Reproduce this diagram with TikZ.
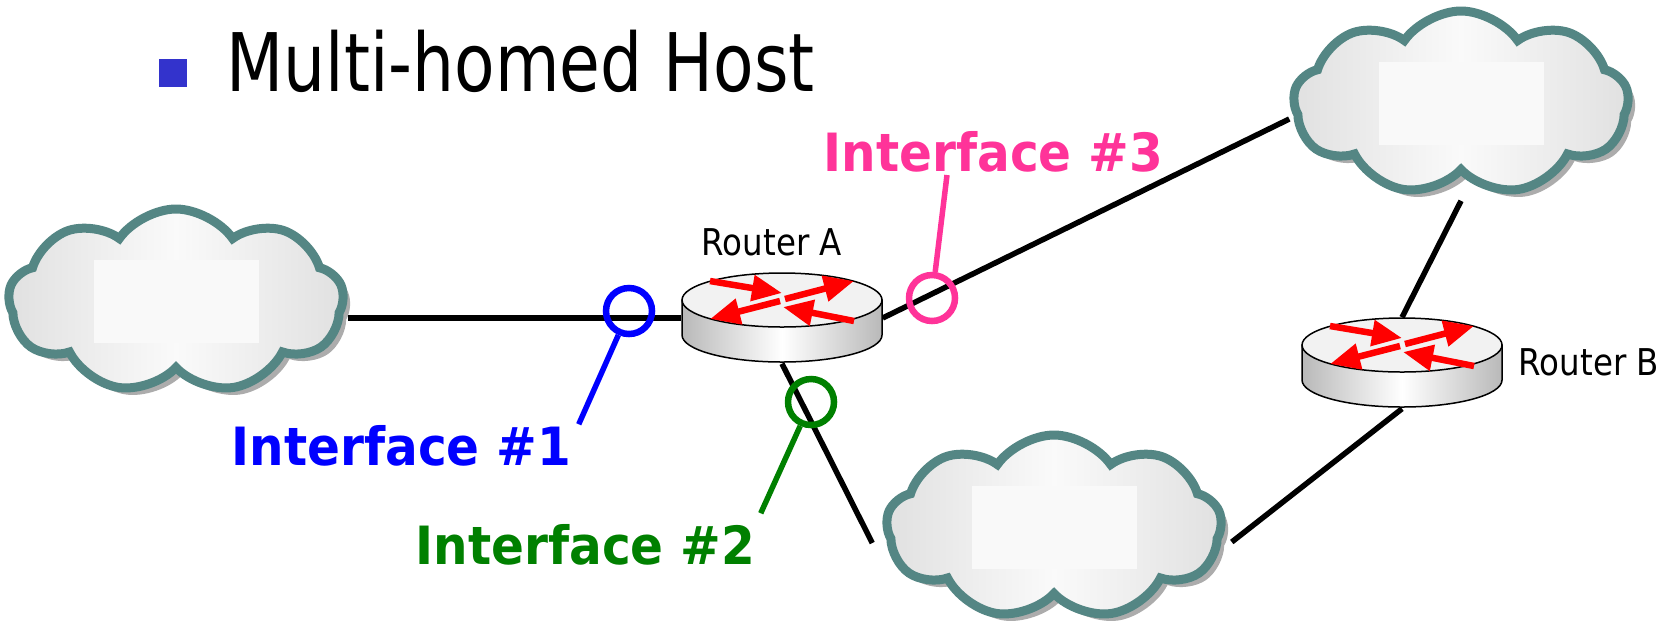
\documentclass[tikz,border=0pt]{standalone}
\usepackage{fontspec}
\setmainfont{DejaVu Sans}
\newfontfamily\titlefont[FakeStretch=0.82]{DejaVu Sans}
\newfontfamily\labfont[FakeStretch=0.92]{DejaVu Sans}
\newfontfamily\smallfont[FakeStretch=0.88]{DejaVu Sans}
\usetikzlibrary{shapes.symbols,shadows,arrows.meta}

\definecolor{ifblue}{RGB}{0,0,255}
\definecolor{ifgreen}{RGB}{0,128,0}
\definecolor{ifpink}{RGB}{255,51,153}
\definecolor{bulletblue}{RGB}{51,51,204}
\definecolor{cloudrim}{RGB}{84,134,132}

\tikzset{
  link/.style={line width=0.55mm},
  cloudy/.style={cloud, cloud puffs=9, cloud puff arc=110, aspect=1.8, draw=cloudrim, line width=0.9mm,
    minimum width=33.5mm, minimum height=18.4mm,
    left color=gray!24, right color=gray!24, middle color=gray!4,
    drop shadow={shadow xshift=0.7mm, shadow yshift=-0.7mm, fill=gray!65, opacity=1}},
  pad/.style={fill=gray!5, minimum width=16.5mm, minimum height=8.3mm, inner sep=0},
  routerbox/.style={minimum width=20mm, minimum height=9mm, inner sep=0},
  iface/.style={circle, draw=#1, line width=0.65mm, minimum size=4.6mm, inner sep=0},
  stick/.style={line width=0.55mm},
  ifacelab/.style={anchor=base west, inner sep=0, font=\labfont\bfseries\fontsize{15}{18}\selectfont},
  routerlab/.style={anchor=base west, inner sep=0, font=\smallfont\fontsize{10.5}{12}\selectfont},
  redarrow/.style={red, line width=0.65mm, -{Triangle[length=3mm,width=2.5mm]}}
}

% router icon drawn round a routerbox node
\newcommand*\router[1]{
  \begin{scope}[shift={(#1.center)}]
    \draw[line width=0.15mm, left color=gray!55, right color=gray!55, middle color=white]
      (-100,-18) -- (-100,17) arc[start angle=180, end angle=0, x radius=100, y radius=27] -- (100,-18) -- cycle;
    \draw[line width=0.15mm, fill=gray!10] (0,-18) ellipse[x radius=100, y radius=27];
    \draw[redarrow] (-72,-37) -- (0,-25);
    \draw[redarrow] (3,-19) -- (72,-37);
    \draw[redarrow] (-2,-17) -- (-72,1);
    \draw[redarrow] (72,3) -- (1,-11);
  \end{scope}}

\begin{document}
\begin{tikzpicture}[x=0.1mm, y=-0.1mm]
\useasboundingbox[fill=white] (0,0) rectangle (1674,634);

% title
\node[fill=bulletblue, minimum size=2.8mm, inner sep=0] (bul) at (173,73) {};
\node[anchor=base west, inner sep=0, font=\titlefont\fontsize{23}{27}\selectfont] (title) at (226,91) {Multi-homed Host};

% clouds
\node[cloudy] (c1) at (176,301) {};
\node[pad] (c1pad) at (c1) {};
\node[cloudy] (c2) at (1054,527) {};
\node[pad] (c2pad) at (c2) {};
\node[cloudy] (c3) at (1461,103) {};
\node[pad] (c3pad) at (c3) {};

% routers
\node[routerbox] (ra) at (782,318) {};
\node[routerbox] (rb) at (1402,363) {};
\node[routerlab] (ralab) at (701,255) {Router A};
\node[routerlab] (rblab) at (1518,375) {Router B};

% links
\draw[link] (c1.east |- ra.west) -- (ra.west);
\draw[link] (ra.east) -- ([yshift=-1.6mm]c3.west);
\draw[link] (ra.south) -- ([shift={(-1mm,-1.6mm)}]c2.west);
\draw[link] (rb.north) -- ([yshift=-2.5mm]c3.south);
\draw[link] (rb.south) -- ([shift={(0.6mm,-1.5mm)}]c2.east);

\router{ra}
\router{rb}

% interfaces
\node[iface=ifblue] (if1) at (629,311) {};
\node[iface=ifgreen] (if2) at (811,402) {};
\node[iface=ifpink] (if3) at (932,298) {};
\node[ifacelab, text=ifblue] (if1lab) at (231,465) {Interface \#1};
\node[ifacelab, text=ifgreen] (if2lab) at (415,564) {Interface \#2};
\node[ifacelab, text=ifpink] (if3lab) at (823,171) {Interface \#3};
\draw[stick, ifblue] (if1) -- ([xshift=0.7mm]if1lab.north east);
\draw[stick, ifgreen] (if2) -- ([shift={(0.5mm,1mm)}]if2lab.north east);
\draw[stick, ifpink] (if3) -- ([shift={(12.4mm,-0.4mm)}]if3lab.base west);
\end{tikzpicture}
\end{document}
